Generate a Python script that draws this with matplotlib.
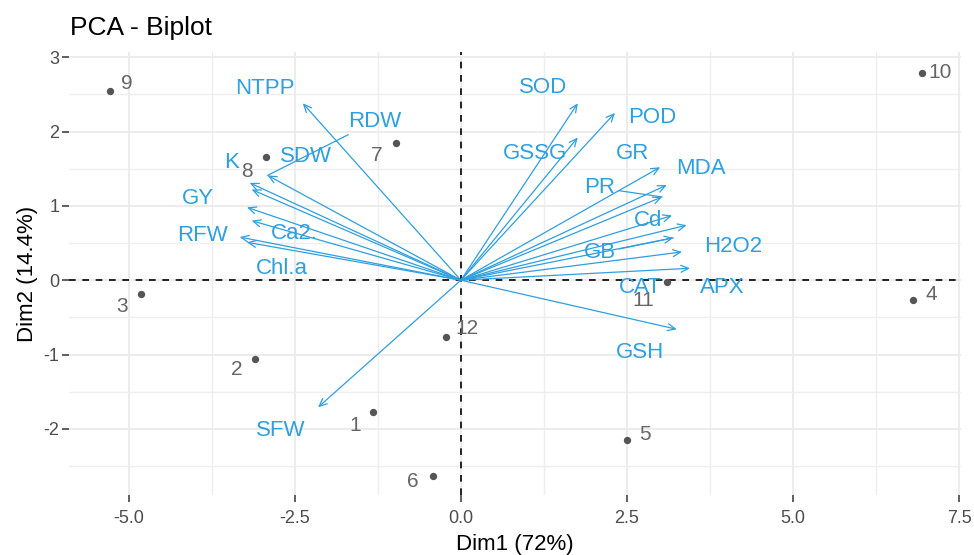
import matplotlib
matplotlib.use("Agg")
import matplotlib.pyplot as plt
from matplotlib.ticker import MultipleLocator

plt.rcParams['font.family'] = ['Liberation Sans', 'DejaVu Sans']

# individuals (PCA scores)
ind_ids = ['1', '2', '3', '4', '5', '6', '7', '8', '9', '10', '11', '12']
ind_dim1 = [-1.32, -3.10, -4.82, 6.81, 2.50, -0.42, -0.98, -2.94, -5.29, 6.94, 3.10, -0.23]
ind_dim2 = [-1.78, -1.06, -0.19, -0.26, -2.15, -2.63, 1.84, 1.66, 2.54, 2.79, -0.03, -0.77]

# variables (scaled loadings)
var_names = ['NTPP', 'RDW', 'SDW', 'K', 'GY', 'RFW', 'Ca2.', 'Chl.a', 'SFW',
             'SOD', 'POD', 'GSSG', 'GR', 'MDA', 'PR', 'Cd', 'H2O2', 'GB',
             'CAT', 'APX', 'GSH']
var_dim1 = [-2.38, -2.91, -3.15, -3.18, -3.22, -3.33, -3.15, -3.22, -2.15,
            1.76, 2.32, 1.76, 3.00, 3.10, 3.03, 3.18, 3.40, 3.20,
            3.33, 3.45, 3.25]
var_dim2 = [2.38, 1.41, 1.22, 1.31, 0.98, 0.58, 0.80, 0.51, -1.71,
            2.38, 2.25, 1.92, 1.52, 1.28, 1.12, 0.87, 0.74, 0.57,
            0.38, 0.16, -0.66]

# label placement (pixel offsets from the anchor, repel-style)
var_offsets = {
    'NTPP': (-38, 15), 'RDW': (107, 54), 'SDW': (54, 33), 'K': (-18, 20),
    'GY': (-49, 9), 'RFW': (-37, 2), 'Ca2.': (43, -13), 'Chl.a': (35, -26),
    'SFW': (-37, -23), 'SOD': (-35, 16), 'POD': (37, -5), 'GSSG': (-43, -16),
    'GR': (-28, 14), 'MDA': (34, 17), 'PR': (-62, 9), 'Cd': (-24, -5),
    'H2O2': (46, -21), 'GB': (-73, -15), 'CAT': (-42, -36), 'APX': (32, -19),
    'GSH': (-37, -23),
}
with_segment = ['RDW', 'PR', 'GB']
ind_offsets = {
    '1': (-18, -13), '2': (-18, -11), '3': (-19, -12), '4': (18, 5),
    '5': (18, 5), '6': (-20, -6), '7': (-19, -12), '8': (-19, -15),
    '9': (17, 8), '10': (18, 0), '11': (-24, -18), '12': (21, 9),
}

var_col = '#2E9FDF'
ind_col = '#555555'
W, H, DPI = 974, 555, 100
pt = 72.0 / DPI

fig = plt.figure(figsize=(W / DPI, H / DPI), dpi=DPI)
ax = fig.add_axes([69 / W, 1 - 495 / H, (961 - 69) / W, (495 - 52) / H])

ax.set_xlim(-5.90, 7.53)
ax.set_ylim(-2.89, 3.07)
ax.xaxis.set_major_locator(MultipleLocator(2.5))
ax.xaxis.set_minor_locator(MultipleLocator(1.25))
ax.yaxis.set_major_locator(MultipleLocator(1))
ax.yaxis.set_minor_locator(MultipleLocator(0.5))
ax.xaxis.set_major_formatter(plt.FuncFormatter(lambda v, p: f"{v:.1f}"))
ax.yaxis.set_major_formatter(plt.FuncFormatter(lambda v, p: f"{v:.0f}"))

ax.grid(True, which='major', color='#EBEBEB', lw=1.3)
ax.grid(True, which='minor', color='#EEEEEE', lw=1.0)
ax.set_axisbelow(True)
for s in ax.spines.values():
    s.set_visible(False)
ax.tick_params(which='major', length=5, width=1.1, color='#333333',
               labelcolor='#4D4D4D', labelsize=13, pad=2)
ax.tick_params(axis='x', which='major', pad=6)
ax.tick_params(which='minor', length=0)

ax.axhline(0, color='black', lw=1.2, ls=(0, (4, 4)), zorder=1)
ax.axvline(0, color='black', lw=1.2, ls=(0, (4, 4)), zorder=1)

# individuals
ax.scatter(ind_dim1, ind_dim2, s=28, color=ind_col, zorder=3, linewidths=0)
for name, x, y in zip(ind_ids, ind_dim1, ind_dim2):
    dx, dy = ind_offsets[name]
    ax.annotate(name, xy=(x, y), xytext=(dx * pt, dy * pt), textcoords='offset points',
                ha='center', va='center', fontsize=15, color='#666666', zorder=4)

# variable arrows
for name, x, y in zip(var_names, var_dim1, var_dim2):
    ax.annotate('', xy=(x, y), xytext=(0, 0),
                arrowprops=dict(arrowstyle='->,head_length=0.55,head_width=0.25',
                                color=var_col, lw=0.9, shrinkA=0, shrinkB=0),
                zorder=2)
    dx, dy = var_offsets[name]
    props = None
    if name in with_segment:
        props = dict(arrowstyle='-', color=var_col, lw=0.9, shrinkA=0, shrinkB=0)
    ax.annotate(name, xy=(x, y), xytext=(dx * pt, dy * pt), textcoords='offset points',
                ha='center', va='center', fontsize=16, color=var_col,
                arrowprops=props, zorder=4)

fig.text(70 / W, 1 - 28 / H, 'PCA - Biplot', fontsize=19, ha='left', va='center')
ax.set_xlabel('Dim1 (72%)', fontsize=16, labelpad=5)
ax.set_ylabel('Dim2 (14.4%)', fontsize=16, labelpad=4)

fig.savefig('out.png', dpi=DPI)
